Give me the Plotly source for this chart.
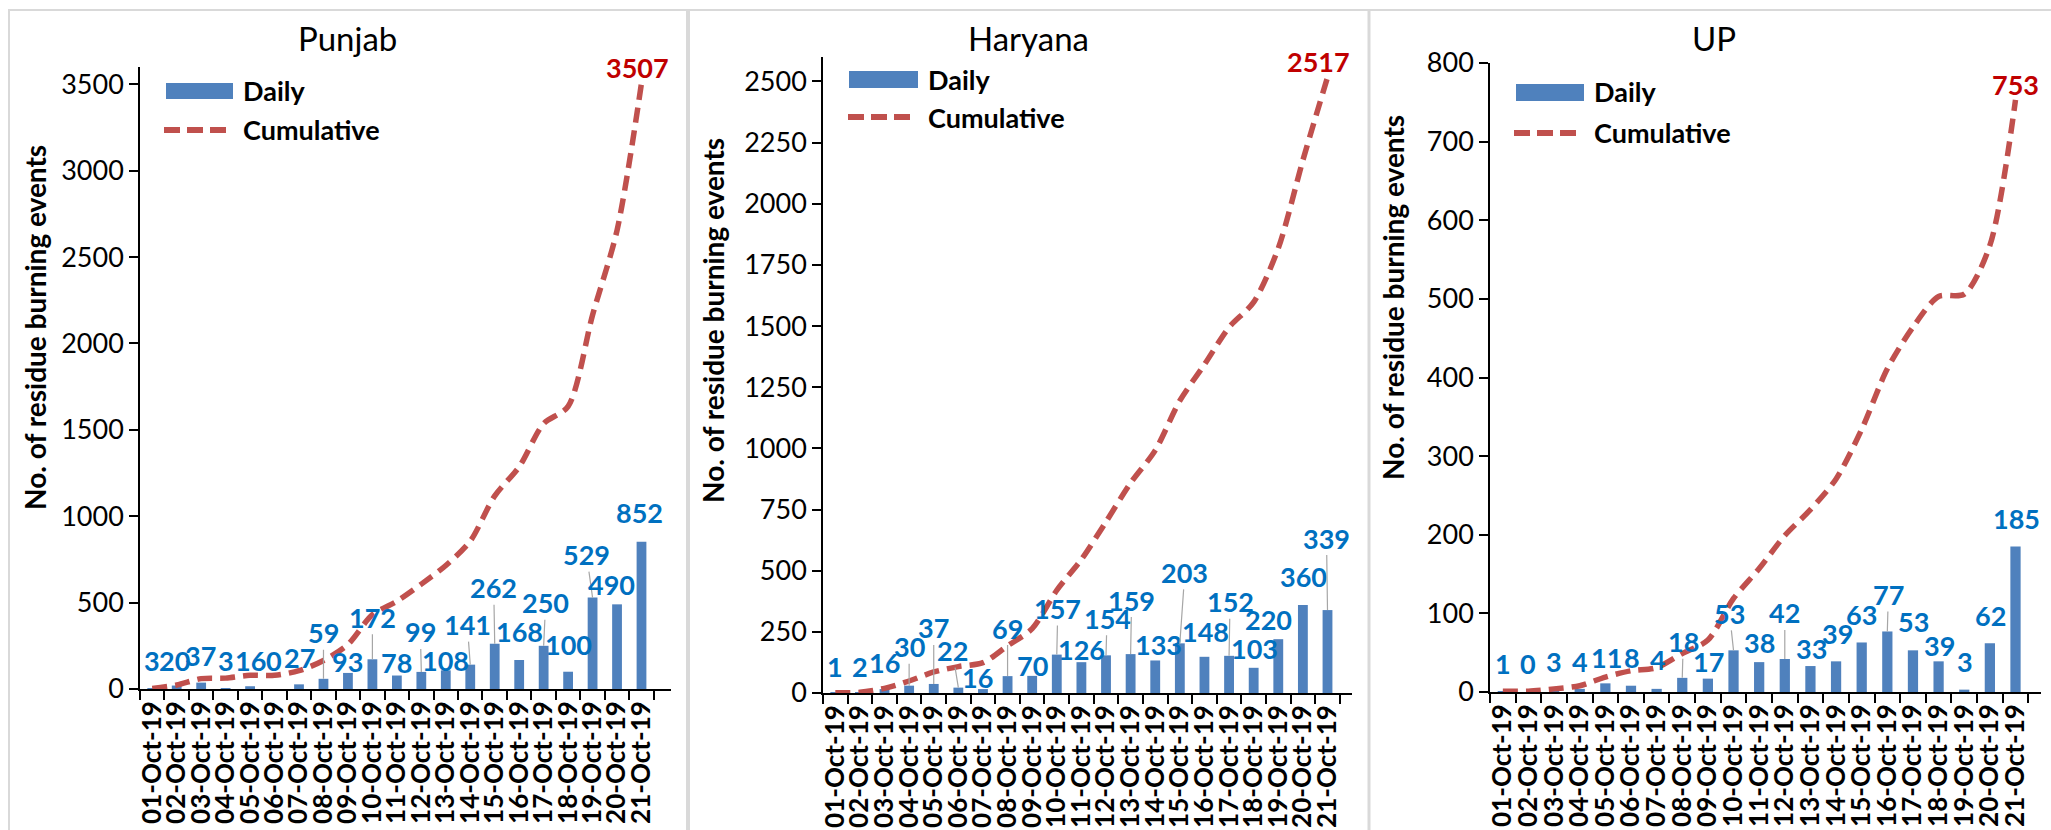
import plotly.graph_objects as go

# ---------------- data ----------------
dates = ["01-Oct-19", "02-Oct-19", "03-Oct-19", "04-Oct-19", "05-Oct-19", "06-Oct-19",
         "07-Oct-19", "08-Oct-19", "09-Oct-19", "10-Oct-19", "11-Oct-19", "12-Oct-19",
         "13-Oct-19", "14-Oct-19", "15-Oct-19", "16-Oct-19", "17-Oct-19", "18-Oct-19",
         "19-Oct-19", "20-Oct-19", "21-Oct-19"]

punjab_daily = [3, 20, 37, 3, 16, 0, 27, 59, 93, 172, 78, 99, 108, 141, 262, 168, 250, 100, 529, 490, 852]
punjab_cum = [3, 23, 60, 63, 79, 79, 106, 165, 258, 430, 508, 607, 715, 856, 1118, 1286, 1536, 1636, 2165, 2655, 3507]

haryana_daily = [1, 2, 16, 30, 37, 22, 16, 69, 70, 157, 126, 154, 159, 133, 203, 148, 152, 103, 220, 360, 339]
haryana_cum = [1, 3, 19, 49, 86, 108, 124, 193, 263, 420, 546, 700, 859, 992, 1195, 1343, 1495, 1598, 1818, 2178, 2517]

up_daily = [1, 0, 3, 4, 11, 8, 4, 18, 17, 53, 38, 42, 33, 39, 63, 77, 53, 39, 3, 62, 185]
up_cum = [1, 1, 4, 8, 19, 27, 31, 49, 66, 119, 157, 199, 232, 271, 334, 411, 464, 503, 506, 568, 753]

titles = ["Punjab", "Haryana", "UP"]
y_title = "No. of residue burning events"
legend_names = ["Daily", "Cumulative"]

# ---------------- styling / layout (pixel positions) ----------------
W, H = 2051, 830
FONT = "Lato"
BAR = "#4F81BD"
LINE = "#C0504D"
LBL = "#0070C0"
TOT = "#C00000"
LEAD = "#A6A6A6"


def px(x):
    return x / W


def py(y):
    return 1 - y / H


panels = [
    dict(daily=punjab_daily, cum=punjab_cum, x0=140, x1=671, ybot=689, ytop=67, ymax=3600, dtick=500,
         tx=347, ytx=35, yty=328,
         lab_dx=[0, -2, -1, 0, 0, -1, 0, 0, 0, 0, 0, -1, 0, -3, -1, 0, 2, 0, -6, -6, -2],
         lab_dy=[-28, -25, -27, -28, -26, -29, -27, -46, -11, -42, -13, -40, -10, -40, -56, -28, -43, -27, -43, -20, -29],
         leaders=[7, 9, 11, 13, 14, 16, 18],
         tot_shift=(-4, 16),
         leg=dict(rx0=166, rx1=233, ry0=83, ry1=99, lx0=164, lx1=228, ly=130, tx=241, ty1=91)),
    dict(daily=haryana_daily, cum=haryana_cum, x0=823, x1=1352, ybot=693, ytop=57, ymax=2600, dtick=250,
         tx=1028, ytx=713, yty=321,
         lab_dx=[0, 0, 0, 0, 0, -6, -5, 0, 0, 1, 0, 1, 1, 3, 5, 1, 1, 1, -10, 1, -1],
         lab_dy=[-26, -26, -27, -39, -56, -37, -12, -48, -10, -46, -13, -37, -54, -16, -71, -25, -54, -19, -20, -28, -72],
         leaders=[3, 4, 5, 7, 9, 11, 12, 14, 16, 20],
         tot_shift=(-9, 16),
         leg=dict(rx0=849, rx1=918, ry0=71, ry1=88, lx0=848, lx1=912, ly=117, tx=926, ty1=80)),
    dict(daily=up_daily, cum=up_cum, x0=1490, x1=2041, ybot=692, ytop=63, ymax=800, dtick=100,
         tx=1714, ytx=1393, yty=298,
         lab_dx=[0, 0, 0, 0, 1, 1, 1, 1, 1, -4, 0, 0, 1, 1, 0, 1, 1, 1, 1, 1, 1],
         lab_dy=[-28, -29, -28, -27, -26, -28, -29, -36, -17, -37, -20, -46, -18, -28, -28, -37, -29, -16, -28, -28, -28],
         leaders=[7, 9, 11, 15],
         tot_shift=(0, 15),
         leg=dict(rx0=1516, rx1=1584, ry0=84, ry1=101, lx0=1514, lx1=1579, ly=133, tx=1592, ty1=92)),
]

fig = go.Figure()
annotations = []
shapes = []
layout_axes = {}

for k, p in enumerate(panels):
    s = "" if k == 0 else str(k + 1)
    xa, ya = "x" + s, "y" + s

    fig.add_trace(go.Bar(x=dates, y=p["daily"], name=legend_names[0], marker_color=BAR,
                         xaxis=xa, yaxis=ya, showlegend=False))
    fig.add_trace(go.Scatter(x=dates, y=p["cum"], name=legend_names[1], mode="lines",
                             line=dict(color=LINE, width=5.5, dash="15px,8px", shape="spline", smoothing=0.8),
                             xaxis=xa, yaxis=ya, showlegend=False))

    layout_axes["xaxis" + s] = dict(
        domain=[px(p["x0"]), px(p["x1"])], anchor=ya, type="category",
        tickmode="linear", tick0=0, dtick=1,
        showline=True, linecolor="black", linewidth=1.5, showgrid=False, zeroline=False,
        ticks="outside", tickson="boundaries", ticklen=9, tickwidth=1.5, tickcolor="black",
        tickangle=-90, tickfont=dict(family=FONT, size=26, color="black", weight="bold"),
        automargin=False)
    layout_axes["yaxis" + s] = dict(
        domain=[py(p["ybot"]), py(p["ytop"])], anchor=xa, range=[0, p["ymax"]],
        tick0=0, dtick=p["dtick"], showline=True, linecolor="black", linewidth=1.5,
        showgrid=False, zeroline=False, ticks="outside", ticklen=9, tickwidth=1.5,
        tickcolor="black", tickfont=dict(family=FONT, size=27, color="black"),
        automargin=False)

    # data labels
    for j, v in enumerate(p["daily"]):
        annotations.append(dict(
            xref=xa, yref=ya, x=dates[j], y=v, text=str(v), showarrow=True,
            arrowhead=0, arrowwidth=1.2, standoff=0,
            arrowcolor=LEAD if j in p["leaders"] else "rgba(0,0,0,0)",
            ax=p["lab_dx"][j], ay=p["lab_dy"][j], borderpad=0,
            font=dict(family=FONT, size=27, color=LBL, weight="bold")))
    # total label
    annotations.append(dict(
        xref=xa, yref=ya, x=dates[-1], y=p["cum"][-1], text=str(p["cum"][-1]),
        showarrow=False, xshift=p["tot_shift"][0], yshift=p["tot_shift"][1],
        font=dict(family=FONT, size=27, color=TOT, weight="bold")))
    # panel title
    annotations.append(dict(xref="paper", yref="paper", x=px(p["tx"]), y=py(38), text=titles[k],
                            showarrow=False, xanchor="center", yanchor="middle",
                            font=dict(family=FONT, size=33, color="black")))
    # y axis title
    annotations.append(dict(xref="paper", yref="paper", x=px(p["ytx"]), y=py(p["yty"]), text=y_title,
                            showarrow=False, textangle=-90, xanchor="center", yanchor="middle",
                            font=dict(family=FONT, size=28, color="black", weight="bold")))
    # legend
    L = p["leg"]
    shapes.append(dict(type="rect", xref="paper", yref="paper", x0=px(L["rx0"]), x1=px(L["rx1"]),
                       y0=py(L["ry1"]), y1=py(L["ry0"]), fillcolor=BAR, line=dict(width=0)))
    shapes.append(dict(type="line", xref="paper", yref="paper", x0=px(L["lx0"]), x1=px(L["lx1"]),
                       y0=py(L["ly"]), y1=py(L["ly"]), line=dict(color=LINE, width=6, dash="16px,7px")))
    annotations.append(dict(xref="paper", yref="paper", x=px(L["tx"]), y=py(L["ty1"]), text=legend_names[0],
                            showarrow=False, xanchor="left", yanchor="middle",
                            font=dict(family=FONT, size=27, color="black", weight="bold")))
    annotations.append(dict(xref="paper", yref="paper", x=px(L["tx"]), y=py(L["ly"]), text=legend_names[1],
                            showarrow=False, xanchor="left", yanchor="middle",
                            font=dict(family=FONT, size=27, color="black", weight="bold")))

# panel borders
BORDER = "#D9D9D9"
shapes.append(dict(type="line", xref="paper", yref="paper", x0=px(8), x1=1, y0=py(10), y1=py(10),
                   line=dict(color=BORDER, width=2)))
for xb, wb in [(9, 2), (688, 4), (1369, 3)]:
    shapes.append(dict(type="line", xref="paper", yref="paper", x0=px(xb), x1=px(xb), y0=py(10), y1=0,
                       line=dict(color=BORDER, width=wb)))

fig.update_layout(
    width=W, height=H, margin=dict(l=0, r=0, t=0, b=0),
    template="none", paper_bgcolor="white", plot_bgcolor="white",
    bargap=0.6, showlegend=False,
    annotations=annotations, shapes=shapes,
    **layout_axes)

fig.write_html("out.html", config={"displayModeBar": False},
               post_script="document.body.style.margin='0';document.body.style.overflow='hidden';")
